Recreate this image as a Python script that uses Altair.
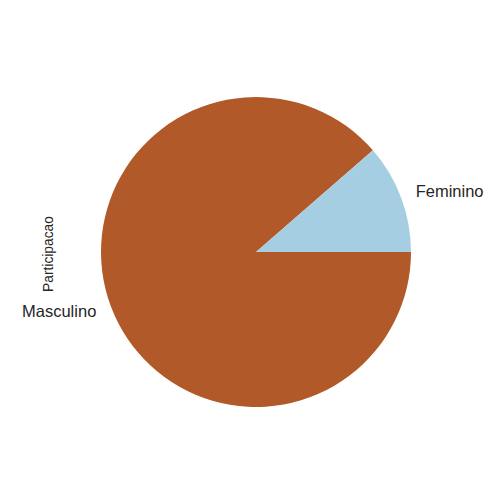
import math
import altair as alt
import pandas as pd

categories = ["Masculino", "Feminino"]
values = [88.6, 11.4]
colors = ["#b15928", "#a6cee3"]

df = pd.DataFrame({"Sexo": categories, "Participacao": values, "ordem": [0, 1]})
total = float(sum(values))

CX, CY, R = 256, 252, 155
theta_scale = alt.Scale(domain=[0, total], range=[math.pi / 2, math.pi / 2 + 2 * math.pi])

base = alt.Chart(df)

pie = base.mark_arc(outerRadius=R, stroke=None).encode(
    theta=alt.Theta("Participacao:Q", stack=True, scale=theta_scale),
    order=alt.Order("ordem:Q"),
    color=alt.Color("Sexo:N", scale=alt.Scale(domain=categories, range=colors), legend=None),
    x=alt.value(CX),
    y=alt.value(CY),
)

def label(name, align):
    return base.transform_window(
        cum="sum(Participacao)", sort=[alt.SortField("ordem")]
    ).transform_calculate(
        mid="datum.cum - datum.Participacao / 2"
    ).transform_filter(alt.datum.Sexo == name).mark_text(
        radius=R * 1.1, align=align, baseline="middle", fontSize=16.5,
        font="Liberation Sans", color="#262626"
    ).encode(
        theta=alt.Theta("mid:Q", stack=False, scale=theta_scale),
        text="Sexo:N",
        x=alt.value(CX),
        y=alt.value(CY),
    )

lab_f = label("Feminino", "left")
lab_m = label("Masculino", "right")

ylabel = alt.Chart(pd.DataFrame({"t": ["Participacao"]})).mark_text(
    angle=270, fontSize=13.8, font="Liberation Sans", color="#262626",
    align="center", baseline="middle"
).encode(text="t:N", x=alt.value(49), y=alt.value(254))

chart = alt.layer(pie, lab_f, lab_m, ylabel).resolve_scale(theta="shared").properties(
    width=500, height=500, padding=0,
    autosize=alt.AutoSizeParams(type="none")
).configure_view(stroke=None)

chart.save("out.html", embed_options={"renderer": "svg", "actions": False})
